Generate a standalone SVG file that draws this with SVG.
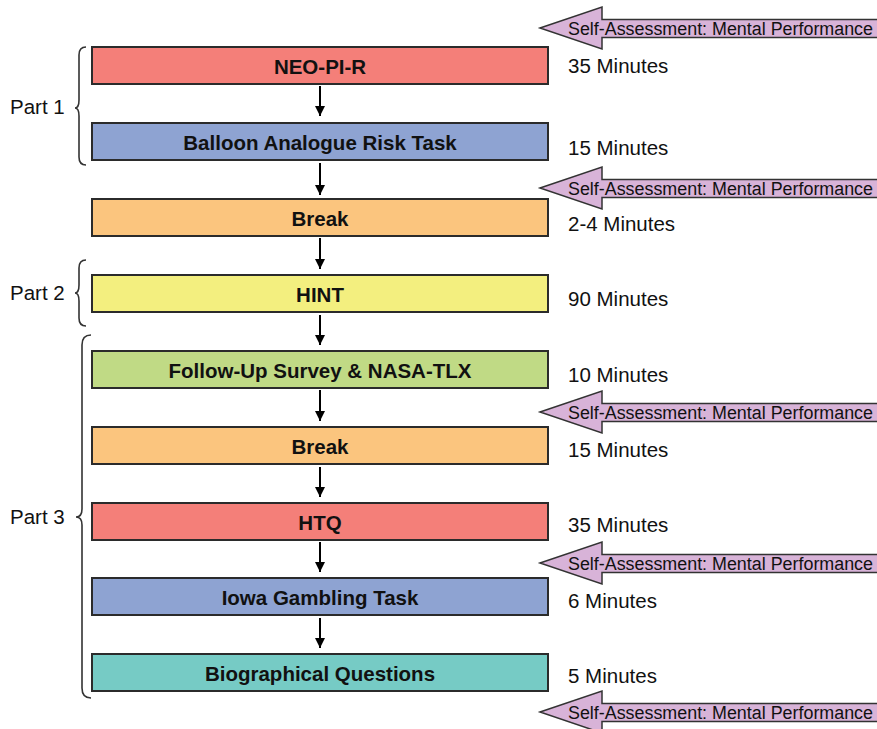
<svg xmlns="http://www.w3.org/2000/svg" width="877" height="729" viewBox="0 0 877 729">
<defs>
<style>
.box{stroke:#2b2b2b;stroke-width:2}
.lbl{font-family:"Liberation Sans",Arial,sans-serif;font-weight:bold;font-size:20.5px;fill:#111;text-anchor:middle}
.min{font-family:"Liberation Sans",Arial,sans-serif;font-size:20.5px;fill:#111}
.part{font-family:"Liberation Sans",Arial,sans-serif;font-size:20.5px;fill:#111}
.sa{fill:#d8b3d8;stroke:#333;stroke-width:1.5}
.satxt{font-family:"Liberation Sans",Arial,sans-serif;font-size:18px;fill:#111}
.brace{fill:none;stroke:#333;stroke-width:1.6}
.conn{stroke:#000;stroke-width:2;fill:none}
</style>
<marker id="ah" markerUnits="userSpaceOnUse" markerWidth="10" markerHeight="10" refX="10" refY="5" orient="auto">
<path d="M0,0 L10,5 L0,10 z" fill="#000"/>
</marker>
</defs>
<rect width="877" height="729" fill="#fff"/>

<g id="n1"><rect class="box" x="92" y="47" width="456" height="37" fill="#f47f79"/><text class="lbl" x="320" y="74">NEO-PI-R</text></g>
<g id="n2"><rect class="box" x="92" y="123" width="456" height="37" fill="#8ea3d2"/><text class="lbl" x="320" y="150">Balloon Analogue Risk Task</text></g>
<g id="n3"><rect class="box" x="92" y="199" width="456" height="37" fill="#fbc57e"/><text class="lbl" x="320" y="226">Break</text></g>
<g id="n4"><rect class="box" x="92" y="275" width="456" height="37" fill="#f3ef7f"/><text class="lbl" x="320" y="302">HINT</text></g>
<g id="n5"><rect class="box" x="92" y="351" width="456" height="37" fill="#c0da85"/><text class="lbl" x="320" y="378">Follow-Up Survey &amp; NASA-TLX</text></g>
<g id="n6"><rect class="box" x="92" y="427" width="456" height="37" fill="#fbc57e"/><text class="lbl" x="320" y="454">Break</text></g>
<g id="n7"><rect class="box" x="92" y="503" width="456" height="37" fill="#f47f79"/><text class="lbl" x="320" y="530">HTQ</text></g>
<g id="n8"><rect class="box" x="92" y="578" width="456" height="37" fill="#8ea3d2"/><text class="lbl" x="320" y="605">Iowa Gambling Task</text></g>
<g id="n9"><rect class="box" x="92" y="654" width="456" height="37" fill="#76cbc5"/><text class="lbl" x="320" y="681">Biographical Questions</text></g>

<g id="connectors">
<line class="conn" x1="320" y1="86" x2="320" y2="116" marker-end="url(#ah)"/>
<line class="conn" x1="320" y1="163" x2="320" y2="195" marker-end="url(#ah)"/>
<line class="conn" x1="320" y1="238" x2="320" y2="269" marker-end="url(#ah)"/>
<line class="conn" x1="320" y1="315" x2="320" y2="345" marker-end="url(#ah)"/>
<line class="conn" x1="320" y1="390" x2="320" y2="421" marker-end="url(#ah)"/>
<line class="conn" x1="320" y1="467" x2="320" y2="497" marker-end="url(#ah)"/>
<line class="conn" x1="320" y1="542" x2="320" y2="572" marker-end="url(#ah)"/>
<line class="conn" x1="320" y1="618" x2="320" y2="648" marker-end="url(#ah)"/>
</g>

<g id="durations">
<text class="min" x="568" y="73">35 Minutes</text>
<text class="min" x="568" y="155">15 Minutes</text>
<text class="min" x="568" y="231">2-4 Minutes</text>
<text class="min" x="568" y="306">90 Minutes</text>
<text class="min" x="568" y="382">10 Minutes</text>
<text class="min" x="568" y="457">15 Minutes</text>
<text class="min" x="568" y="532">35 Minutes</text>
<text class="min" x="568" y="608">6 Minutes</text>
<text class="min" x="568" y="683">5 Minutes</text>
</g>

<g id="self-assessments">
<g id="sa1"><path class="sa" d="M540,28 L602,7 L602,19.5 L880,19.5 L880,37.5 L602,37.5 L602,49 Z"/><text class="satxt" x="568" y="35" textLength="305" lengthAdjust="spacingAndGlyphs">Self-Assessment: Mental Performance</text></g>
<g id="sa2"><path class="sa" d="M540,188 L602,167 L602,179.5 L880,179.5 L880,197.5 L602,197.5 L602,209 Z"/><text class="satxt" x="568" y="195" textLength="305" lengthAdjust="spacingAndGlyphs">Self-Assessment: Mental Performance</text></g>
<g id="sa3"><path class="sa" d="M540,412 L602,391 L602,403.5 L880,403.5 L880,421.5 L602,421.5 L602,433 Z"/><text class="satxt" x="568" y="419" textLength="305" lengthAdjust="spacingAndGlyphs">Self-Assessment: Mental Performance</text></g>
<g id="sa4"><path class="sa" d="M540,563 L602,542 L602,554.5 L880,554.5 L880,572.5 L602,572.5 L602,584 Z"/><text class="satxt" x="568" y="570" textLength="305" lengthAdjust="spacingAndGlyphs">Self-Assessment: Mental Performance</text></g>
<g id="sa5"><path class="sa" d="M540,712 L602,691 L602,703.5 L880,703.5 L880,721.5 L602,721.5 L602,733 Z"/><text class="satxt" x="568" y="719" textLength="305" lengthAdjust="spacingAndGlyphs">Self-Assessment: Mental Performance</text></g>
</g>

<g id="part1">
<path class="brace" d="M86,47 Q79,47 79,55 L79,100 Q79,108 75,108 Q79,108 79,116 L79,157 Q79,165 86,165"/>
<text class="part" x="10" y="114">Part 1</text>
</g>
<g id="part2">
<path class="brace" d="M86,260 Q79,260 79,268 L79,285 Q79,293 75,293 Q79,293 79,301 L79,318 Q79,326 86,326"/>
<text class="part" x="10" y="300">Part 2</text>
</g>
<g id="part3">
<path class="brace" d="M91,335 Q82,335 82,345 L82,509 Q82,517 76,517 Q82,517 82,525 L82,688 Q82,698 91,698"/>
<text class="part" x="10" y="524">Part 3</text>
</g>
</svg>
